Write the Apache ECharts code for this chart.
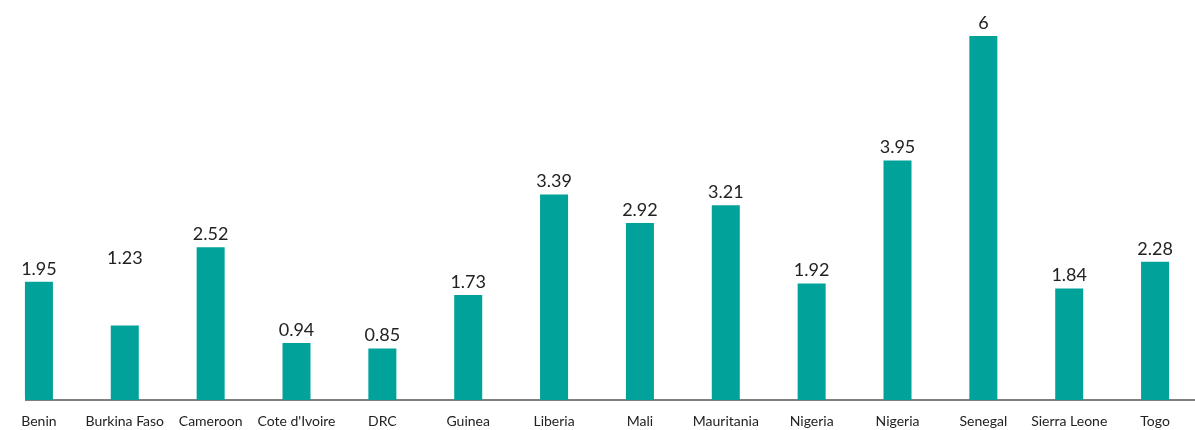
<!DOCTYPE html>
<html>
<head>
<meta charset="utf-8">
<script src="https://cdn.jsdelivr.net/npm/echarts@6/dist/echarts.min.js"></script>
<style>
  html, body { margin: 0; padding: 0; background: #fff; overflow: hidden; }
  /* the plot runs a few px past both edges of the original */
  #chart { width: 1202px; height: 430px; margin-left: -4px; }
</style>
</head>
<body>
<div id="chart"></div>
<script>
// countries (Nigeria appears twice in the source)
const countries = [
  "Benin", "Burkina Faso", "Cameroon", "Cote d'Ivoire", "DRC", "Guinea",
  "Liberia", "Mali", "Mauritania", "Nigeria", "Nigeria", "Senegal",
  "Sierra Leone", "Togo"
];
const values = [1.95, 1.23, 2.52, 0.94, 0.85, 1.73, 3.39, 2.92, 3.21, 1.92, 3.95, 6, 1.84, 2.28];

const chart = echarts.init(document.getElementById("chart"));

// the 1.23 label sits well above its bar in the original
const seriesData = values.map((v, i) =>
  i === 1 ? { value: v, label: { offset: [0, -54] } } : v
);

chart.setOption({
  animation: false,
  textStyle: { fontFamily: "Lato" },
  grid: { left: 0, right: 0, top: 30, bottom: 30 },
  xAxis: {
    type: "category",
    data: countries,
    axisLine: { lineStyle: { color: "#7f7f7f", width: 2 } },
    axisTick: { show: false },
    axisLabel: { color: "#222", fontSize: 14, margin: 14, interval: 0 }
  },
  yAxis: {
    type: "value",
    min: 0,
    max: 6.1,
    show: false,
    splitLine: { show: false }
  },
  series: [
    {
      type: "bar",
      data: seriesData,
      barWidth: 28,
      itemStyle: { color: "#00a29a" },
      label: {
        show: true,
        position: "top",
        distance: 4,
        color: "#222",
        fontSize: 18
      }
    }
  ],
  graphic: [
    // axis line begins at the first bar in the original
    { type: "rect", shape: { x: 0, y: 397, width: 29, height: 6 }, style: { fill: "#fff" }, z: 100 }
  ]
});
</script>
</body>
</html>
